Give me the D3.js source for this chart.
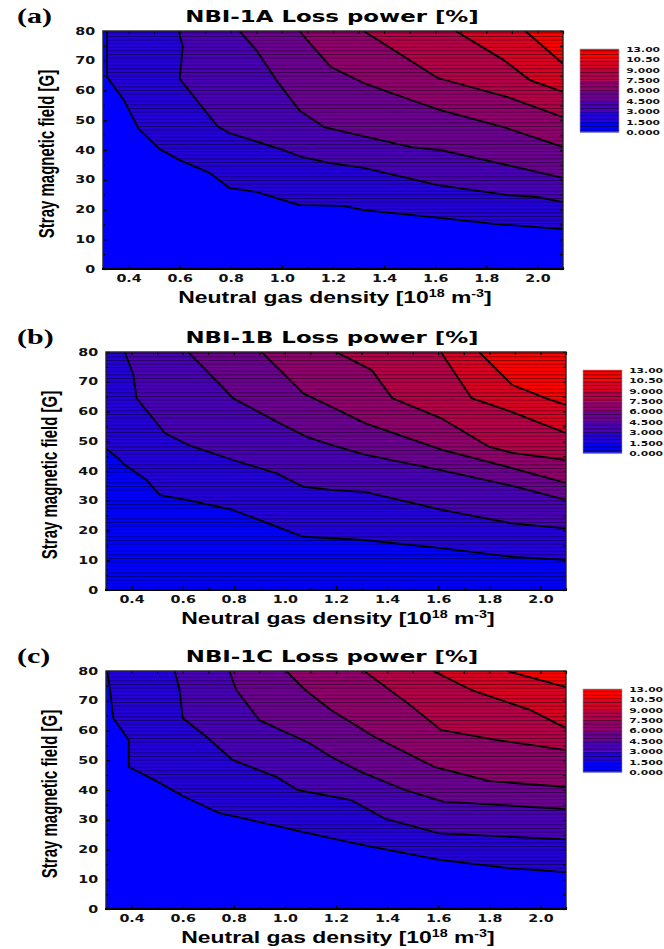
<!DOCTYPE html>
<html>
<head>
<meta charset="utf-8">
<script src="https://cdn.jsdelivr.net/npm/d3@7"></script>
<style>
  body { margin: 0; background: #fff; }
</style>
</head>
<body>
<div id="chart"></div>
<script>
//chart values
const levels = [0, 1.5, 3, 4.5, 6, 7.5, 9, 10.5, 13];
const densityRange = [0.3, 2.1];
const fieldRange = [0, 80];
const xTicks = [0.4, 0.6, 0.8, 1.0, 1.2, 1.4, 1.6, 1.8, 2.0];
const xMinorTicks = [0.3, 0.5, 0.7, 0.9, 1.1, 1.3, 1.5, 1.7, 1.9, 2.1];
const yTicks = [0, 10, 20, 30, 40, 50, 60, 70, 80];
const yMinorTicks = [5, 15, 25, 35, 45, 55, 65, 75];
const panelLetters = ["(a)", "(b)", "(c)"];
const panelTitles = ["NBI-1A Loss power [%]", "NBI-1B Loss power [%]", "NBI-1C Loss power [%]"];

//iso-lines [density, field] for levels 1.5 ... 10.5
const linesA = [
  [[0.316, 80], [0.316, 64.5], [0.38, 57], [0.44, 47], [0.522, 40.3], [0.6, 36.6], [0.717, 32.3], [0.795, 27.2], [0.9, 25.9], [1.068, 21.5], [1.24, 21.2], [1.32, 19.8], [1.58, 17.5], [1.84, 15.1], [2.1, 13.4]],
  [[0.596, 80], [0.612, 74.7], [0.6, 63.9], [0.748, 48], [0.795, 45.7], [0.994, 40.3], [1.08, 37.6], [1.19, 35.6], [1.32, 34], [1.61, 28.2], [1.88, 24.9], [2.0, 24.2], [2.1, 22.5]],
  [[0.834, 80], [0.9, 73.6], [0.978, 63.5], [1.068, 53.4], [1.165, 47.7], [1.505, 41], [1.62, 40], [1.848, 35.6], [2.1, 30.6]],
  [[1.068, 80], [1.19, 68], [1.32, 62.5], [1.505, 56.8], [1.62, 53.4], [1.867, 47.7], [2.1, 41]],
  [[1.32, 80], [1.61, 64.2], [1.883, 57.8], [2.1, 51]],
  [[1.68, 80], [1.867, 70.3], [1.97, 63.5], [2.1, 59.5]],
  [[1.953, 80], [2.1, 69]]
];
const linesB = [
  [[0.3, 47.6], [0.355, 43.7], [0.366, 42.6], [0.458, 37], [0.511, 31.9], [0.615, 30.3], [0.797, 26.9], [0.968, 21.3], [1.071, 17.9], [1.184, 17.4], [1.31, 16.8], [1.61, 14.1], [1.89, 11.1], [2.1, 10.1]],
  [[0.374, 80], [0.407, 72.3], [0.42, 64.4], [0.531, 52.7], [0.629, 48.5], [0.797, 43.7], [0.968, 39.2], [1.072, 34.7], [1.188, 33.6], [1.313, 33.0], [1.615, 26.9], [1.888, 22.4], [2.1, 20.7]],
  [[0.622, 80], [0.798, 64.4], [0.981, 56], [1.085, 51.5], [1.184, 48.7], [1.313, 45.5], [1.6, 40.5], [1.89, 35], [2.1, 30.3]],
  [[0.909, 80], [1.072, 66.1], [1.184, 61.5], [1.315, 56], [1.615, 47.1], [1.888, 41], [2.1, 36]],
  [[1.2, 80], [1.34, 73.9], [1.42, 64.5], [1.61, 57.8], [1.8, 48.1], [1.89, 46.1], [2.1, 43.7]],
  [[1.61, 80], [1.73, 64.5], [1.89, 59.8], [2.1, 52.7]],
  [[1.76, 80], [1.89, 68.9], [2.02, 64.5], [2.1, 62.2]]
];
const linesC = [
  [[0.305, 80], [0.316, 73.6], [0.328, 64.2], [0.389, 56.8], [0.389, 47.8], [0.51, 42.4], [0.6, 38], [0.744, 32.2], [0.83, 30.6], [1.09, 25.5], [1.306, 21.5], [1.606, 16.5], [1.867, 13.8], [2.1, 12.4]],
  [[0.569, 80], [0.588, 73.6], [0.6, 64.2], [0.694, 57.8], [0.795, 50.1], [0.967, 44.4], [1.05, 40], [1.26, 36.6], [1.39, 30.4], [1.605, 25.4], [1.869, 24.3], [2.1, 23.4]],
  [[0.783, 80], [0.81, 73.6], [0.9, 63.5], [1.095, 55.8], [1.18, 51.2], [1.3, 46], [1.47, 40], [1.62, 36.1], [1.87, 34.8], [2.1, 33.6]],
  [[1.005, 80], [1.08, 73.6], [1.18, 66.9], [1.35, 57.9], [1.584, 47.8], [1.8, 43], [2.1, 41]],
  [[1.31, 80], [1.48, 69.2], [1.61, 60.2], [1.83, 56.8], [2.1, 53.4]],
  [[1.58, 80], [1.73, 73.6], [1.96, 66.9], [2.1, 60.8]],
  [[1.87, 80], [2.1, 74.6]]
];
const panelLines = [linesA, linesB, linesC];

//layout of the three panels
const width = 664,
    height = 949,
    stretch = 1.43;

const boxes = [
  {left: 103, top: 31, right: 563, bottom: 269, stripeAll: false},
  {left: 106, top: 352, right: 566, bottom: 590, stripeAll: true},
  {left: 106, top: 671, right: 566, bottom: 909, stripeAll: false}
];

const bandColor = i => d3.interpolateRgb("#0000ff", "#ff0000")(i / (levels.length - 2));
const levelFormat = d3.format(".4r");
const tickFont = "'DejaVu Sans', sans-serif";
const labelFont = "'Liberation Sans', Arial, sans-serif";

let svg = d3.select("#chart").append("svg")
    .attr("width", width)
    .attr("height", height)
    .style("background", "#fff");

let defs = svg.append("defs");

//thin dark stripes seen across the filled contours
let stripes = defs.append("pattern")
    .attr("id", "stripes")
    .attr("patternUnits", "userSpaceOnUse")
    .attr("width", 10)
    .attr("height", 3.6);
stripes.append("rect")
    .attr("width", 10)
    .attr("height", 0.9)
    .attr("fill", "#000")
    .attr("fill-opacity", 0.5);

//stretch text horizontally like the source figure
function place(sel, x, y, rotate) {
  return sel.attr("transform", "translate(" + x + "," + y + ") scale(" + stretch + ",1)" + (rotate ? " rotate(-90)" : ""));
}

boxes.forEach(function(box, pi) {
  let lines = panelLines[pi];

  let x = d3.scaleLinear().domain(densityRange).range([box.left, box.right]);
  let y = d3.scaleLinear().domain(fieldRange).range([box.bottom, box.top]);

  let g = svg.append("g").attr("class", "panel");

  defs.append("clipPath")
      .attr("id", "clip" + pi)
    .append("rect")
      .attr("x", box.left)
      .attr("y", box.top)
      .attr("width", box.right - box.left)
      .attr("height", box.bottom - box.top);

  let plot = g.append("g").attr("clip-path", "url(#clip" + pi + ")");

  //region above an iso-line, closed round the top right corner
  let region = function(ln) {
    let pts = ln.slice();
    let first = pts[0], last = pts[pts.length - 1];
    if (last[1] <= fieldRange[0]) pts.push([densityRange[1], fieldRange[0]]);
    pts.push([densityRange[1], fieldRange[1]]);
    if (first[0] <= densityRange[0]) pts.push([densityRange[0], fieldRange[1]]);
    return d3.line().x(d => x(d[0])).y(d => y(d[1]))(pts) + "Z";
  };

  plot.append("rect")
      .attr("x", box.left)
      .attr("y", box.top)
      .attr("width", box.right - box.left)
      .attr("height", box.bottom - box.top)
      .attr("fill", bandColor(0));

  plot.selectAll(".band")
      .data(lines)
    .enter()
      .append("path")
      .attr("class", "band")
      .attr("d", region)
      .attr("fill", (d, i) => bandColor(i + 1));

  if (box.stripeAll) {
    plot.append("rect")
        .attr("x", box.left)
        .attr("y", box.top)
        .attr("width", box.right - box.left)
        .attr("height", box.bottom - box.top)
        .attr("fill", "url(#stripes)");
  } else {
    plot.append("path")
        .attr("d", region(lines[0]))
        .attr("fill", "url(#stripes)");
  }

  plot.selectAll(".iso")
      .data(lines)
    .enter()
      .append("path")
      .attr("class", "iso")
      .attr("d", d3.line().x(d => x(d[0])).y(d => y(d[1])))
      .attr("fill", "none")
      .attr("stroke", "#000")
      .attr("stroke-width", 1.8)
      .attr("stroke-linejoin", "round");

  //axes, ticks pointing inwards
  let bottomAxis = g.append("g")
      .attr("transform", "translate(0," + box.bottom + ")")
      .call(d3.axisBottom(x).tickValues(xTicks).tickSize(-4).tickPadding(6).tickFormat(d3.format(".1f")));
  g.append("g")
      .attr("transform", "translate(0," + box.bottom + ")")
      .call(d3.axisBottom(x).tickValues(xMinorTicks).tickSize(-2).tickFormat(""));
  g.append("g")
      .attr("transform", "translate(0," + box.top + ")")
      .call(d3.axisTop(x).tickValues(xTicks.concat(xMinorTicks)).tickSize(-3).tickFormat(""));

  let leftAxis = g.append("g")
      .attr("transform", "translate(" + box.left + ",0)")
      .call(d3.axisLeft(y).tickValues(yTicks).tickSize(-4).tickPadding(5.5));
  g.append("g")
      .attr("transform", "translate(" + box.left + ",0)")
      .call(d3.axisLeft(y).tickValues(yMinorTicks).tickSize(-2).tickFormat(""));
  g.append("g")
      .attr("transform", "translate(" + box.right + ",0)")
      .call(d3.axisRight(y).tickValues(yTicks.concat(yMinorTicks)).tickSize(-3).tickFormat(""));

  g.selectAll(".domain").remove();
  g.selectAll(".tick line").attr("stroke", "#000").attr("stroke-width", 1.2);

  bottomAxis.selectAll("text")
      .attr("transform", "scale(" + stretch + ",1)")
      .style("font-family", tickFont)
      .style("font-weight", "bold")
      .style("font-size", "10px")
      .attr("fill", "#111");
  leftAxis.selectAll("text")
      .attr("transform", "scale(" + stretch + ",1)")
      .style("font-family", tickFont)
      .style("font-weight", "bold")
      .style("font-size", "10px")
      .attr("fill", "#111");

  //plot frame
  g.append("rect")
      .attr("x", box.left)
      .attr("y", box.top)
      .attr("width", box.right - box.left)
      .attr("height", box.bottom - box.top)
      .attr("fill", "none")
      .attr("stroke", "#222")
      .attr("stroke-width", 1.4);
  g.append("line")
      .attr("x1", box.left - 1)
      .attr("x2", box.right + 1)
      .attr("y1", box.bottom)
      .attr("y2", box.bottom)
      .attr("stroke", "#000")
      .attr("stroke-width", 2);

  //titles and labels
  place(g.append("text"), 17, box.top - 8)
      .text(panelLetters[pi])
      .style("font-family", "'Liberation Serif', 'Times New Roman', serif")
      .style("font-weight", "bold")
      .style("font-size", "21px");

  place(g.append("text"), 332, box.top - 9)
      .attr("text-anchor", "middle")
      .text(panelTitles[pi])
      .style("font-family", tickFont)
      .style("font-weight", "bold")
      .style("font-size", "16px");

  place(g.append("text"), box.left - 49, (box.top + box.bottom) / 2 + 4, true)
      .attr("text-anchor", "middle")
      .text("Stray magnetic field [G]")
      .style("font-family", labelFont)
      .style("font-weight", "bold")
      .style("font-size", "15px");

  let xl = place(g.append("text"), (box.left + box.right) / 2 + 2, box.bottom + 34)
      .attr("text-anchor", "middle")
      .style("font-family", labelFont)
      .style("font-weight", "bold")
      .style("font-size", "16px");
  xl.append("tspan").text("Neutral gas density [10");
  xl.append("tspan").attr("dy", -6).style("font-size", "10px").text("18");
  xl.append("tspan").attr("dy", 6).text(" m");
  xl.append("tspan").attr("dy", -6).style("font-size", "10px").text("-3");
  xl.append("tspan").attr("dy", 6).text("]");

  //colour bar with evenly spaced level labels
  let cbLeft = box.right + 17,
      cbWidth = 39,
      cbTop = box.top + 18,
      cbBottom = box.top + 101;
  let cy = d3.scaleLinear().domain([0, levels.length - 1]).range([cbBottom, cbTop]);

  let cb = g.append("g");
  cb.selectAll("rect")
      .data(d3.range(levels.length - 1))
    .enter()
      .append("rect")
      .attr("x", cbLeft)
      .attr("y", d => cy(d + 1))
      .attr("width", cbWidth)
      .attr("height", d => cy(d) - cy(d + 1) + 0.5)
      .attr("fill", d => bandColor(d));
  cb.append("rect")
      .attr("x", cbLeft)
      .attr("y", cbTop)
      .attr("width", cbWidth)
      .attr("height", cbBottom - cbTop)
      .attr("fill", "url(#stripes)")
      .attr("stroke", "#99a")
      .attr("stroke-width", 0.6);

  let cbAxis = g.append("g")
      .attr("transform", "translate(" + (cbLeft + cbWidth) + ",0)")
      .call(d3.axisRight(cy).tickValues(d3.range(levels.length)).tickSize(0).tickPadding(5)
        .tickFormat(i => levelFormat(levels[i])));
  cbAxis.select(".domain").remove();
  cbAxis.selectAll("text")
      .attr("transform", "scale(" + stretch + ",1)")
      .style("font-family", tickFont)
      .style("font-weight", "bold")
      .style("font-size", "7.5px")
      .attr("fill", "#111");
});
</script>
</body>
</html>
